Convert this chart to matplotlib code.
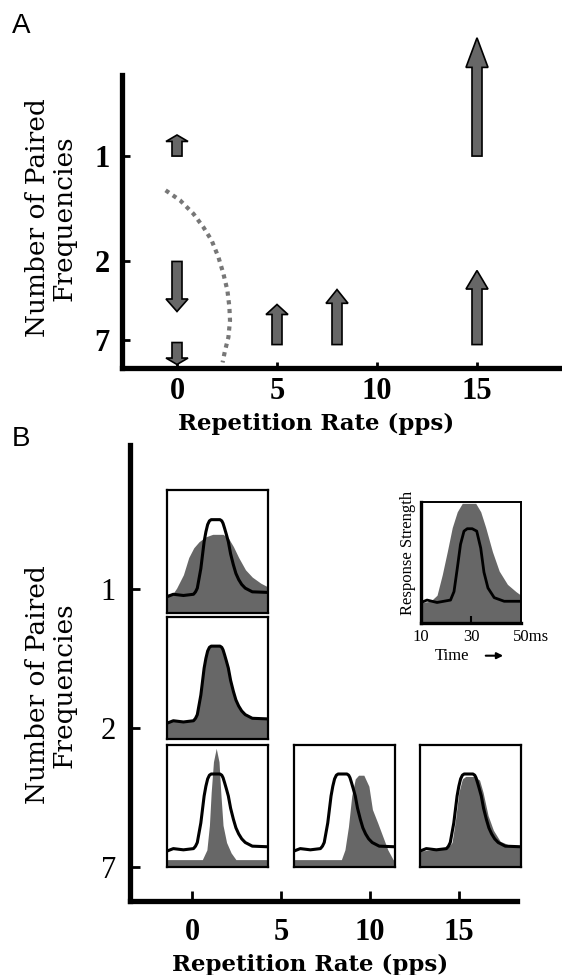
import numpy as np
import matplotlib
matplotlib.use("Agg")
import matplotlib.pyplot as plt
from matplotlib.patches import FancyArrow

# ---------------- panel A data ----------------
level_labels = ['1', '2', '7']          # number of paired frequencies
levels_a = [7.23, 3.63, 0.96]           # where each level sits on the A axis
rate_ticks = [0, 5, 10, 15]             # repetition rate (pps)

# arrows: rate, level where it starts, change in response
arrow_rate = [0, 0, 0, 5, 8, 15, 15]
arrow_start = [7.23, 3.63, 0.86, 0.79, 0.79, 0.79, 7.23]
arrow_change = [0.72, -1.71, -0.75, 1.37, 1.88, 2.53, 4.04]

# dotted boundary
border_x = [-0.57, 0.15, 0.82, 1.32, 1.73, 2.07, 2.32, 2.52, 2.62, 2.65, 2.57, 2.40, 2.28]
border_y = [6.06, 5.72, 5.26, 4.80, 4.35, 3.78, 3.21, 2.64, 2.07, 1.61, 1.04, 0.58, 0.18]

# ---------------- panel B data ----------------
levels_b = [3, 2, 1]

# single-frequency reference response (black line), time in ms
ref_t = [10, 12.5, 16.5, 20.5, 21.3, 22, 23.4, 24.7, 25.4, 26.1, 26.8, 27.5, 31, 31.7, 32.2,
         32.8, 33.5, 34.3, 35.2, 36.3, 37.3, 38.4, 39.6, 41, 43.8, 50]
ref_r = [0.13, 0.15, 0.14, 0.15, 0.17, 0.20, 0.36, 0.58, 0.66, 0.72, 0.75, 0.76, 0.76, 0.75, 0.73,
         0.69, 0.64, 0.58, 0.48, 0.39, 0.32, 0.27, 0.23, 0.20, 0.17, 0.165]

# paired-frequency responses (grey areas)
g01_t = [10, 12.5, 13.8, 16.5, 18.6, 20.6, 22.7, 25.4, 28.1, 32.2, 34.3, 36.3, 38.4,
         41.1, 43.8, 47.2, 50]
g01_r = [0.15, 0.16, 0.20, 0.31, 0.45, 0.53, 0.58, 0.62, 0.64, 0.64, 0.61, 0.54, 0.45,
         0.35, 0.29, 0.24, 0.21]
g02_t = ref_t
g02_r = ref_r
g07_t = [10, 24.0, 25.8, 26.8, 27.5, 28.4, 29.5, 30.6, 31.3, 32.2, 33.6, 35.4, 37.3, 50]
g07_r = [0.06, 0.06, 0.14, 0.34, 0.61, 0.86, 0.97, 0.86, 0.61, 0.34, 0.20, 0.115, 0.06, 0.06]
g57_t = [10, 28.8, 30.2, 31.6, 32.9, 34.3, 35.6, 37.7, 39.7, 41.1, 43.2, 45.2, 47.2, 49.3, 50]
g57_r = [0.06, 0.06, 0.14, 0.33, 0.58, 0.72, 0.75, 0.75, 0.66, 0.47, 0.36, 0.25, 0.14, 0.06, 0.05]
g157_t = [10, 20.6, 22.7, 24.1, 25.4, 26.8, 28.1, 31.6, 33.6, 35, 37, 39.1, 41.8, 45.2, 50]
g157_r = [0.13, 0.15, 0.20, 0.39, 0.61, 0.72, 0.74, 0.74, 0.71, 0.61, 0.42, 0.30, 0.21, 0.18, 0.17]

# key inset
key_gray_t = [10, 13.8, 16.4, 18.5, 20.5, 22.5, 24.5, 26.5, 31.9, 33.9, 35.9, 38.6, 41.3,
              44.6, 48, 50]
key_gray_r = [0.17, 0.18, 0.23, 0.40, 0.59, 0.79, 0.92, 0.99, 0.99, 0.92, 0.79, 0.59, 0.43,
              0.32, 0.26, 0.23]
key_line_t = [10, 12.4, 16.4, 21.8, 23.2, 24.5, 25.8, 27.2, 28.5, 30.5, 32.3, 33.9, 35.2,
              36.8, 39.3, 43.3, 50]
key_line_r = [0.17, 0.19, 0.17, 0.19, 0.26, 0.45, 0.65, 0.76, 0.78, 0.78, 0.76, 0.62, 0.42,
              0.29, 0.21, 0.18, 0.18]

GREY = '#676767'
W, H = 562, 975

fig = plt.figure(figsize=(W / 100, H / 100), dpi=100)

def px_rect(x0, y0, x1, y1):
    # pixel box (top-left origin) -> figure fraction rect
    return [x0 / W, 1 - y1 / H, (x1 - x0) / W, (y1 - y0) / H]

def style_axis(ax, bold_y):
    for s in ['top', 'right']:
        ax.spines[s].set_visible(False)
    for s in ['left', 'bottom']:
        ax.spines[s].set_linewidth(3.8)
    ax.tick_params(axis='both', direction='in', width=2, colors='k')
    for lab in ax.get_xticklabels():
        lab.set_fontfamily('Liberation Serif')
        lab.set_fontweight('bold')
        lab.set_fontsize(22)
    for lab in ax.get_yticklabels():
        lab.set_fontfamily('Liberation Serif')
        lab.set_fontweight('bold' if bold_y else 'normal')
        lab.set_fontsize(22)

# ---------------- panel A ----------------
axA = fig.add_axes(px_rect(122, 75, 562, 367.7))
axA.set_xlim(-2.75, 19.25)
axA.set_ylim(0, 10)
axA.set_xticks(rate_ticks)
axA.set_yticks(levels_a, level_labels)
style_axis(axA, True)
axA.tick_params(axis='y', length=6, pad=9)
axA.tick_params(axis='x', length=4, pad=7)

for r, s, d in zip(arrow_rate, arrow_start, arrow_change):
    hl = max(0.25 * abs(d), 0.22)
    arr = FancyArrow(r, s, 0, d, width=0.5, head_width=1.1, head_length=hl,
                     length_includes_head=True, fc=GREY, ec='k', lw=1.2,
                     clip_on=False, zorder=3)
    axA.add_patch(arr)

axA.plot(border_x, border_y, color='#777777', lw=3, linestyle=(0, (1, 1.1)),
         dash_capstyle='butt', zorder=2)

# ---------------- panel B ----------------
axB = fig.add_axes(px_rect(130, 445, 517, 901))
axB.set_xlim(-3.48, 18.26)
axB.set_ylim(0.755, 4.036)
axB.set_xticks(rate_ticks)
axB.set_yticks(levels_b, level_labels)
style_axis(axB, False)
axB.tick_params(axis='y', length=7, pad=10)
axB.tick_params(axis='x', length=7, pad=12)

box_w, box_h = 5.67, 0.88
boxes = [
    (-1.40, 2.83, g01_t, g01_r),
    (-1.40, 1.92, g02_t, g02_r),
    (-1.40, 1.00, g07_t, g07_r),
    (5.73, 1.00, g57_t, g57_r),
    (12.81, 1.00, g157_t, g157_r),
]
for x0, y0, gt, gr in boxes:
    ins = axB.inset_axes([x0, y0, box_w, box_h], transform=axB.transData)
    ins.fill_between(gt, 0, gr, color=GREY, lw=0)
    ins.plot(ref_t, ref_r, color='k', lw=2.2, solid_joinstyle='round')
    ins.set_xlim(10, 50)
    ins.set_ylim(0, 1)
    ins.set_xticks([])
    ins.set_yticks([])
    for s in ins.spines.values():
        s.set_linewidth(1.6)

# key inset
key = axB.inset_axes([12.87, 2.755, 5.61, 0.87], transform=axB.transData)
key.fill_between(key_gray_t, 0, key_gray_r, color=GREY, lw=0)
key.plot(key_line_t, key_line_r, color='k', lw=2.0, solid_joinstyle='round')
key.set_xlim(10, 50)
key.set_ylim(0, 1)
key.set_yticks([])
key.set_xticks([30])
key.set_xticklabels([])
key.tick_params(axis='x', direction='in', length=5, width=1.5)
for s in ['top', 'right']:
    key.spines[s].set_linewidth(1.4)
for s in ['left', 'bottom']:
    key.spines[s].set_linewidth(2.4)
kfont = dict(family='Liberation Serif', fontsize=12)
key.text(0.0, -0.115, '10', transform=key.transAxes, ha='center', va='center', **kfont)
key.text(0.5, -0.115, '30', transform=key.transAxes, ha='center', va='center', **kfont)
key.text(0.92, -0.115, '50ms', transform=key.transAxes, ha='left', va='center', **kfont)
key.text(0.31, -0.27, 'Time', transform=key.transAxes, ha='center', va='center', **kfont)
key.annotate('', xy=(0.85, -0.27), xytext=(0.62, -0.27), xycoords='axes fraction',
             arrowprops=dict(arrowstyle='-|>', color='k', lw=1.5, mutation_scale=9))
key.text(-0.13, 0.58, 'Response Strength', transform=key.transAxes, rotation=90,
         ha='center', va='center', **kfont)

# ---------------- labels ----------------
ylab = 'Number of Paired\nFrequencies'
xlab = 'Repetition Rate (pps)'
fig.text(51 / W, 1 - 218 / H, ylab, rotation=90, ha='center', va='center',
         multialignment='center', family='DejaVu Serif', fontsize=19, linespacing=1.05)
fig.text(51 / W, 1 - 685 / H, ylab, rotation=90, ha='center', va='center',
         multialignment='center', family='DejaVu Serif', fontsize=19, linespacing=1.05)
fig.text(316 / W, 1 - 430 / H, xlab, ha='center', va='baseline',
         family='DejaVu Serif', fontweight='bold', fontsize=16.5)
fig.text(310 / W, 1 - 971 / H, xlab, ha='center', va='baseline',
         family='DejaVu Serif', fontweight='bold', fontsize=16.5)

fig.text(12 / W, 1 - 33 / H, 'A', family='Liberation Sans', fontsize=20, va='baseline')
fig.text(12 / W, 1 - 446 / H, 'B', family='Liberation Sans', fontsize=20, va='baseline')

fig.savefig('out.png', dpi=100)
